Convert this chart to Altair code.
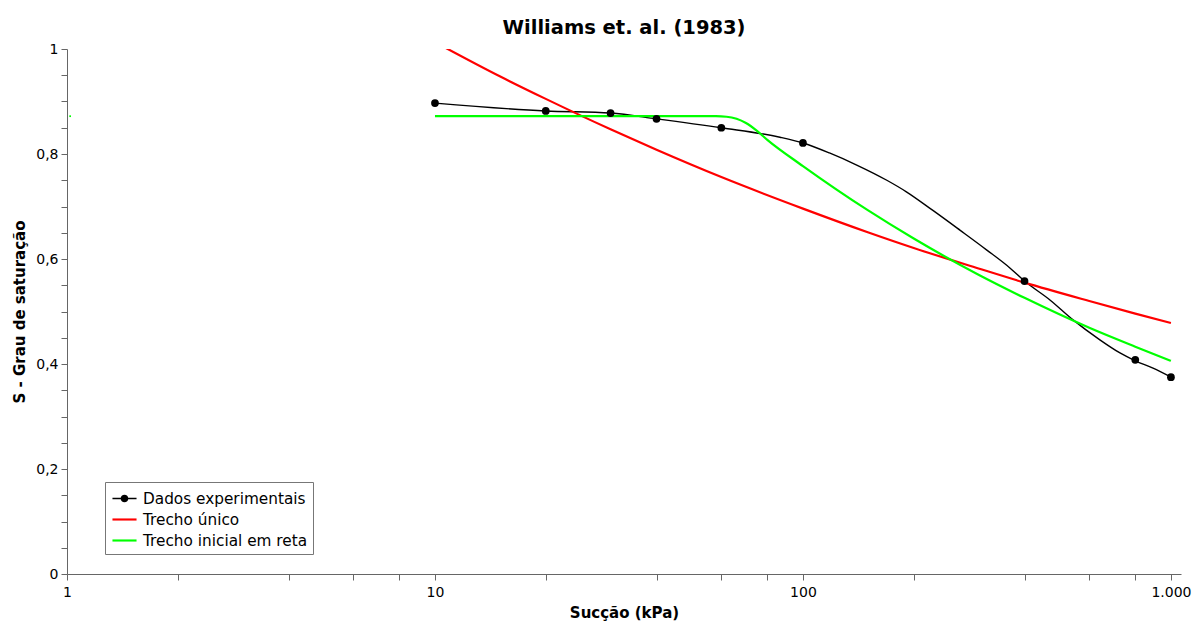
import altair as alt
import pandas as pd

# Experimental data (Williams et al., 1983)
exp_x = [10, 20, 30, 40, 60, 100, 400, 800, 1000]
exp_y = [0.897, 0.882, 0.878, 0.867, 0.850, 0.821, 0.558, 0.408, 0.375]

curve_x = [10, 20, 30, 40, 60, 86.6, 100, 118, 140, 169, 191, 225, 267, 316, 365, 400,
           469, 542, 641, 727, 800, 894, 1000]
curve_y = [0.897, 0.882, 0.878, 0.867, 0.850, 0.832, 0.821, 0.802, 0.779, 0.750, 0.728,
           0.693, 0.655, 0.617, 0.583, 0.558, 0.522, 0.484, 0.446, 0.421, 0.406, 0.392, 0.375]

# "Trecho único" fit
red_x = [10, 15, 20, 30, 40, 60, 100, 150, 200, 300, 400, 600, 800, 1000]
red_y = [1.013, 0.948, 0.905, 0.847, 0.808, 0.756, 0.696, 0.651, 0.621, 0.582, 0.555,
         0.520, 0.496, 0.478]

# "Trecho inicial em reta" fit
green_x = [10, 20, 40, 58, 62, 66, 70, 75, 80, 100, 150, 200, 300, 400, 600, 800, 1000]
green_y = [0.872, 0.872, 0.872, 0.872, 0.871, 0.867, 0.859, 0.844, 0.827, 0.777, 0.693,
           0.639, 0.570, 0.526, 0.469, 0.433, 0.406]

# small stray green mark near the y axis
stray_x = [1.02]
stray_y = [0.872]

series = ["Dados experimentais", "Trecho único", "Trecho inicial em reta"]
colors = ["#000000", "#ff0000", "#00ff00"]

x_ticks = [1, 2, 4, 6, 8, 10, 20, 40, 60, 80, 100, 200, 400, 600, 800, 1000]
y_ticks = [round(i * 0.05, 2) for i in range(21)]

FONT = "DejaVu Sans"

curve_df = pd.DataFrame({"x": curve_x, "y": curve_y})
red_df = pd.DataFrame({"x": red_x, "y": red_y})
green_df = pd.DataFrame({"x": green_x, "y": green_y})
pts_df = pd.DataFrame({"x": exp_x, "y": exp_y})
stray_df = pd.DataFrame({"x": stray_x, "y": stray_y})
legend_df = pd.DataFrame({"serie": series, "x": [None] * 3, "y": [None] * 3})

xscale = alt.Scale(type="log", domain=[1, 1065], nice=False)
yscale = alt.Scale(domain=[0, 1], nice=False, zero=False)

xaxis = alt.Axis(
    values=x_ticks,
    labelExpr="datum.value == 1000 ? '1.000' : ((datum.value == 1 || datum.value == 10 || datum.value == 100) ? format(datum.value, 'd') : '')",
    title="Sucção (kPa)", labelFlush=False, labelOverlap=False, grid=False,
    tickSize=6, labelPadding=5, titlePadding=6,
)
yaxis = alt.Axis(
    values=y_ticks,
    labelExpr="(round(datum.value * 100) % 20 == 0) ? replace(format(datum.value, '.1~f'), '.', ',') : ''",
    title="S - Grau de saturação", labelFlush=False, labelOverlap=False, grid=False,
    tickSize=6, labelPadding=3, titlePadding=8,
)

X = alt.X("x:Q", scale=xscale, axis=xaxis)
Y = alt.Y("y:Q", scale=yscale, axis=yaxis)

red = alt.Chart(red_df).mark_line(clip=True, interpolate="monotone", color="#ff0000", strokeWidth=2.2).encode(x=X, y=Y)
green = alt.Chart(green_df).mark_line(clip=True, interpolate="monotone", color="#00ff00", strokeWidth=2.2).encode(x=X, y=Y)
black = alt.Chart(curve_df).mark_line(clip=True, interpolate="monotone", color="#000000", strokeWidth=1.4).encode(x=X, y=Y)

points = alt.Chart(pts_df).mark_circle(size=60, color="black", opacity=1).encode(x=X, y=Y)

stray = alt.Chart(stray_df).mark_square(size=3, color="#00ff00", opacity=1).encode(x=X, y=Y)

path_dot = "M-1.13,-0.07H1.13V0.07H-1.13Z M0.36,0A0.36,0.36 0 1,1 -0.36,0A0.36,0.36 0 1,1 0.36,0Z"
path_line = "M-1.13,-0.1H1.13V0.1H-1.13Z"

leg = alt.Legend(
    title=None, orient="none", legendX=38, legendY=433,
    padding=5, strokeColor="#777", fillColor="white",
    symbolSize=454, rowPadding=1, symbolOffset=3, labelOffset=7,
    labelFont=FONT, labelFontSize=15.3, labelColor="black", labelLimit=400,
)

legend_layer = alt.Chart(legend_df).mark_point(filled=True, opacity=1).encode(
    x=X, y=Y,
    color=alt.Color("serie:N", scale=alt.Scale(domain=series, range=colors), legend=leg),
    shape=alt.Shape("serie:N", scale=alt.Scale(domain=series, range=[path_dot, path_line, path_line]), legend=leg),
)

chart = alt.layer(black, red, green, points, stray, legend_layer).properties(
    width=1114, height=525,
    autosize=alt.AutoSizeParams(type="none"),
    padding={"left": 67, "top": 49, "right": 13, "bottom": 49},
    background="white",
    title=alt.TitleParams(
        text="Williams et. al. (1983)", font=FONT, fontSize=19.5, fontWeight="bold",
        color="black", anchor="middle", offset=4,
    ),
).configure_view(stroke="transparent").configure_axis(
    labelFont=FONT, labelFontSize=14, labelColor="black",
    titleFont=FONT, titleFontSize=15, titleFontWeight="bold", titleColor="black",
    domainColor="#666", tickColor="#666", domainWidth=1, tickWidth=1,
)

chart.save("out.html", embed_options={"renderer": "svg", "actions": False})
